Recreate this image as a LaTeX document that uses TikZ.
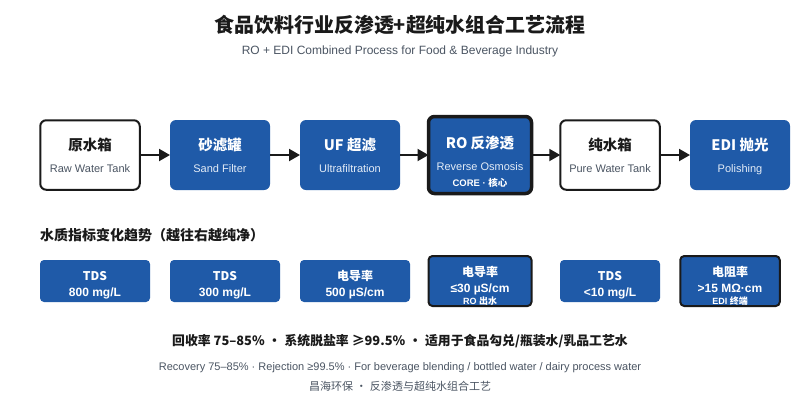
\documentclass[tikz,border=0pt]{standalone}
\usepackage{fontspec}
\setmainfont{Liberation Sans}
\newfontfamily\cjk{Noto Sans CJK SC}
\usetikzlibrary{arrows.meta}
\definecolor{blue1}{HTML}{1F5AA8}
\definecolor{ink}{HTML}{1A1A1A}
\definecolor{greytxt}{HTML}{4B5563}
\definecolor{lightt}{HTML}{E3ECF7}
\tikzset{
 x=1pt,y=-1pt,
 boxbase/.style={rectangle,rounded corners=6pt,minimum height=70pt,minimum width=100pt,inner sep=0pt,outer sep=0pt},
 tank/.style={boxbase,draw=ink,line width=2pt,fill=white,minimum width=99.5pt,minimum height=69.5pt},
 proc/.style={boxbase,fill=blue1},
 core/.style={boxbase,fill=blue1,draw=ink,line width=3.5pt,minimum width=103pt,minimum height=77pt},
 mbox/.style={rectangle,rounded corners=4pt,fill=blue1,minimum height=42pt,inner sep=0pt,outer sep=0pt},
 mcore/.style={rectangle,rounded corners=4pt,fill=blue1,draw=ink,line width=2pt,minimum height=50pt,inner sep=0pt,outer sep=0pt},
 flow/.style={draw=ink,line width=2pt,-{Triangle[length=11pt,width=12pt]}},
 txt/.style={inner sep=0pt,outer sep=0pt,anchor=base,align=center},
 headdark/.style={txt,font=\cjk\bfseries\fontsize{14.5}{16}\selectfont,text=ink},
 headlight/.style={txt,font=\cjk\bfseries\fontsize{14.5}{16}\selectfont,text=white},
 subdark/.style={txt,font=\fontsize{11}{13}\selectfont,text=greytxt},
 sublight/.style={txt,font=\fontsize{11}{13}\selectfont,text=lightt},
 mtop/.style={txt,font=\cjk\bfseries\fontsize{12}{14}\selectfont,text=white},
 mval/.style={txt,font=\bfseries\fontsize{12}{14}\selectfont,text=white},
 mtag/.style={txt,font=\bfseries\fontsize{9}{10}\selectfont,text=white},
}
\begin{document}
\begin{tikzpicture}
\useasboundingbox[fill=white] (0,0) rectangle (800,400);
\node[txt,font=\cjk\bfseries\fontsize{19.9}{24}\selectfont,text=ink] (title) at (400,32) {食品饮料行业反渗透+超纯水组合工艺流程};
\node[txt,font=\fontsize{12}{14}\selectfont,text=greytxt] (subtitle) at (400,54.5) {RO + EDI Combined Process for Food \& Beverage Industry};
% process row
\node[tank] (raw) at (90,155) {};
\node[proc] (sand) at (220,155) {};
\node[proc] (uf) at (350,155) {};
\node[core] (ro) at (480,155) {};
\node[tank] (pure) at (610,155) {};
\node[proc] (edi) at (740,155) {};
\draw[flow] (raw.east) -- (sand.west);
\draw[flow] (sand.east) -- (uf.west);
\draw[flow] (uf.east) -- (ro.west);
\draw[flow] (ro.east) -- (pure.west);
\draw[flow] (pure.east) -- (edi.west);
\node[headdark] (rawa) at (90,150) {原水箱};
\node[subdark] (rawb) at (90,172) {Raw Water Tank};
\node[headlight] (sanda) at (220,150) {砂滤罐};
\node[sublight] (sandb) at (220,172) {Sand Filter};
\node[headlight] (ufa) at (350,150) {UF 超滤};
\node[sublight] (ufb) at (350,172) {Ultrafiltration};
\node[headlight] (roa) at (480,148) {RO 反渗透};
\node[sublight] (rob) at (480,170) {Reverse Osmosis};
\node[txt,font=\bfseries\fontsize{9.5}{11}\selectfont,text=white] (roc) at (480,186) {CORE · {\cjk 核心}};
\node[headdark] (purea) at (610,150) {纯水箱};
\node[subdark] (pureb) at (610,172) {Pure Water Tank};
\node[headlight] (edia) at (740,150) {EDI 抛光};
\node[sublight] (edib) at (740,172) {Polishing};
% heading
\node[txt,anchor=base west,font=\cjk\bfseries\fontsize{14}{15}\selectfont,text=ink] (trend) at (40,240) {水质指标变化趋势（越往右越纯净）};
% metrics
\node[mbox,minimum width=110pt] (m1) at (95,281) {};
\node[mbox,minimum width=110pt] (m2) at (225,281) {};
\node[mbox,minimum width=110pt] (m3) at (355,281) {};
\node[mcore,minimum width=103pt] (m4) at (480,281) {};
\node[mbox,minimum width=100pt] (m5) at (610,281) {};
\node[mcore,minimum width=99.5pt] (m6) at (730,281) {};
\node[mtop] (m1a) at (95,280) {TDS};
\node[mval] (m1b) at (95,296) {800 mg/L};
\node[mtop] (m2a) at (225,280) {TDS};
\node[mval] (m2b) at (225,296) {300 mg/L};
\node[mtop] (m3a) at (355,280) {电导率};
\node[mval] (m3b) at (355,296) {500 µS/cm};
\node[mtop] (m4a) at (480,276) {电导率};
\node[mval] (m4b) at (480,292) {≤30 µS/cm};
\node[mtag] (m4c) at (480,304) {RO {\cjk 出水}};
\node[mtop] (m5a) at (610,280) {TDS};
\node[mval] (m5b) at (610,296) {<10 mg/L};
\node[mtop] (m6a) at (730,276) {电阻率};
\node[mval] (m6b) at (730,292) {>15 MΩ·cm};
\node[mtag] (m6c) at (730,304) {EDI {\cjk 终端}};
% footer
\node[txt,font=\cjk\bfseries\fontsize{12.85}{15}\selectfont,text=ink] (f1) at (400,345) {回收率 75–85\%\hspace{3.5pt}·\hspace{3.5pt}系统脱盐率 ≥99.5\%\hspace{3.5pt}·\hspace{3.5pt}适用于食品勾兑/瓶装水/乳品工艺水};
\node[txt,font=\fontsize{11}{13}\selectfont,text=greytxt] (f2) at (400,370) {Recovery 75–85\% · Rejection ≥99.5\% · For beverage blending / bottled water / dairy process water};
\node[txt,font=\cjk\fontsize{11}{13}\selectfont,text=greytxt] (f3) at (400,390) {昌海环保\hspace{3pt}·\hspace{3pt}反渗透与超纯水组合工艺};
\end{tikzpicture}
\end{document}
